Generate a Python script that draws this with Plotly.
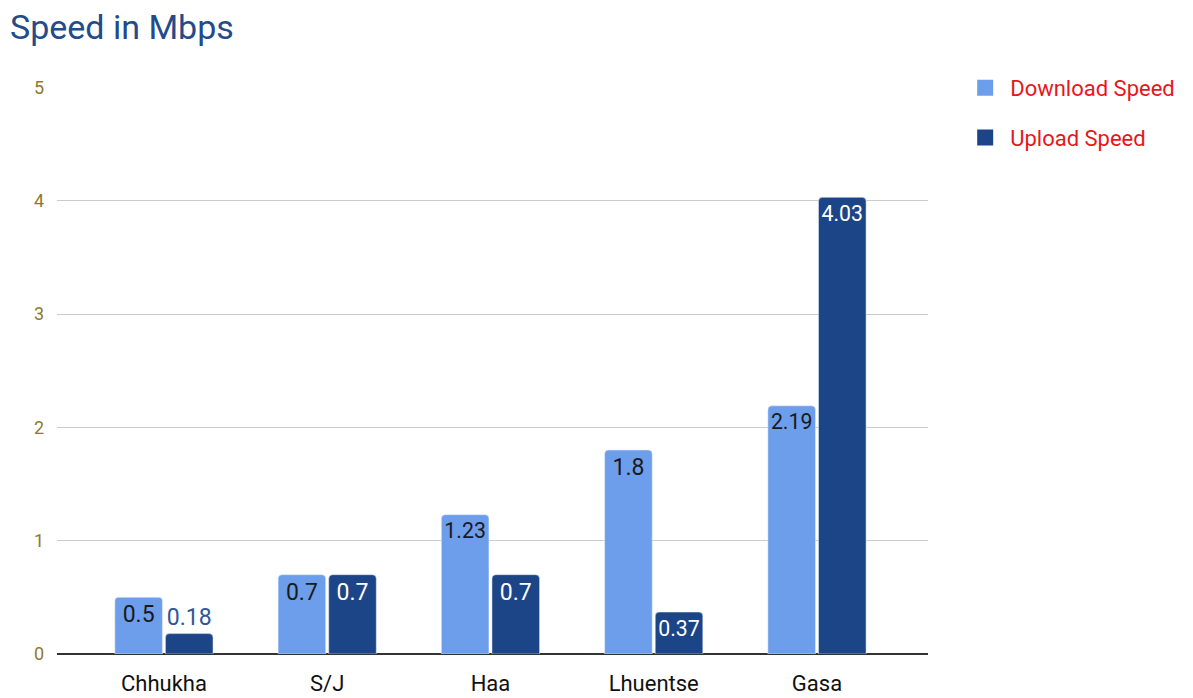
import plotly.graph_objects as go

categories = ["Chhukha", "S/J", "Haa", "Lhuentse", "Gasa"]
download = [0.5, 0.7, 1.23, 1.8, 2.19]
upload = [0.18, 0.7, 0.7, 0.37, 4.03]
y_ticks = [0, 1, 2, 3, 4, 5]

LIGHT = "#6d9eeb"
DARK = "#1c4587"
FONT = "Roboto"

fig = go.Figure()
fig.add_trace(go.Bar(
    name="Download Speed", x=categories, y=download, marker_color=LIGHT,
    text=[str(v) for v in download], textposition="inside", insidetextanchor="end",
    textangle=0,
    insidetextfont=dict(color="#1a1a1a", size=23, family=FONT),
    outsidetextfont=dict(color=LIGHT, size=23, family=FONT),
    constraintext="none", cliponaxis=False, showlegend=False,
))
up_pos = ["outside" if v < 0.3 else "inside" for v in upload]
fig.add_trace(go.Bar(
    name="Upload Speed", x=categories, y=upload, marker_color=DARK,
    text=[str(v) for v in upload], textposition=up_pos, insidetextanchor="end",
    textangle=0,
    insidetextfont=dict(color="white", size=23, family=FONT),
    outsidetextfont=dict(color="#2f5597", size=23, family=FONT),
    constraintext="none", cliponaxis=False, showlegend=False,
))
# legend entries with larger square swatches
for name, col, grp in [("Download Speed", LIGHT, "d"), ("Upload Speed", DARK, "u")]:
    fig.add_trace(go.Scatter(
        name=name, x=[None], y=[None], mode="markers",
        marker=dict(symbol="square", size=22, color=col),
        legendgroup=grp, hoverinfo="skip",
    ))

fig.update_layout(
    width=1177, height=690,
    margin=dict(l=49, r=257, t=79, b=44, autoexpand=False),
    paper_bgcolor="white", plot_bgcolor="white",
    font=dict(family=FONT),
    title=dict(text="Speed in Mbps", x=0.0, xanchor="left", y=1.0, yanchor="top",
               xref="container", yref="container", pad=dict(l=2, t=7),
               font=dict(size=34, color="#234a8a", family=FONT)),
    barmode="group", bargap=0.38, bargroupgap=0.06, barcornerradius=4,
    legend=dict(xref="container", yref="container", x=0.809, y=0.9145,
                xanchor="left", yanchor="top",
                font=dict(size=22, color="#e8161b", family=FONT),
                traceorder="grouped", tracegroupgap=18, itemwidth=40,
                itemsizing="trace"),
    xaxis=dict(range=[-0.655, 4.68], showgrid=False, ticks="", automargin=False,
               tickfont=dict(size=22, color="#111111", family=FONT),
               ticklabelstandoff=14, showline=False, zeroline=False),
    yaxis=dict(range=[0, 5.004], tickvals=y_ticks, showgrid=True, gridcolor="#cccccc",
               gridwidth=1.3, zeroline=True, zerolinecolor="#333333", zerolinewidth=2,
               automargin=False,
               tickfont=dict(size=18, color="#8c7a2a", family=FONT),
               ticklabelstandoff=12, showline=False),
)

fig.write_html("out.html")
